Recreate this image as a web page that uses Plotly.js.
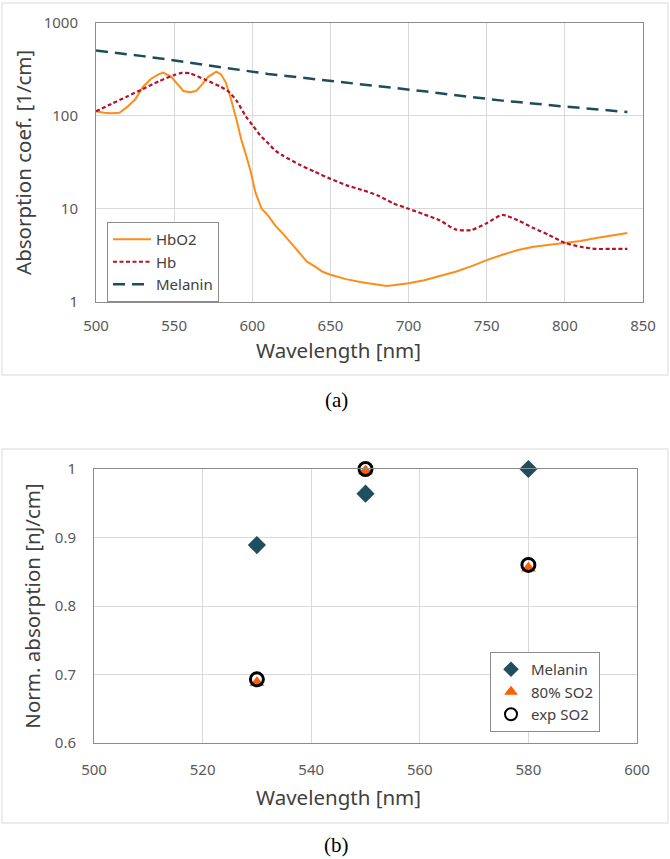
<!DOCTYPE html>
<html>
<head>
<meta charset="utf-8">
<script src="https://cdn.plot.ly/plotly-3.0.1.min.js"></script>
<style>
html,body{margin:0;padding:0;background:#fff;}
#chart{width:670px;height:859px;}
</style>
</head>
<body>
<div id="chart"></div>
<script>
// ---- Panel (a): absorption spectra ----
const hbo2Wl = [500,505,510,515,520,525,530,535,540,543,548,552,556,560,564,568,572,577,580,583,586,590,593,596,599,602,606,610,615,620,625,630,635,640,645,650,660,670,680,686,690,700,710,720,730,740,750,760,770,780,790,800,810,820,830,840];
const hbo2Val = [112,108,107,108,125,150,205,250,280,292,265,220,185,180,185,220,265,300,280,230,160,90,55,38,25,15,10,8.5,6.5,5.3,4.2,3.4,2.7,2.4,2.1,1.95,1.75,1.62,1.52,1.48,1.5,1.58,1.7,1.88,2.1,2.4,2.8,3.2,3.6,3.9,4.1,4.25,4.5,4.85,5.2,5.5];

const hbWl = [500,510,520,530,540,550,555,560,570,580,585,590,596,600,605,610,615,620,630,640,650,660,670,680,690,700,710,720,730,740,750,760,770,780,790,800,810,820,830,840];
const hbVal = [112,135,162,195,235,275,290,288,245,205,182,145,98,80,62,51,42,37,30,25,21,18,16,14,11.5,10,8.7,7.5,6.0,5.9,7.0,8.6,7.5,6.2,5.2,4.3,3.9,3.7,3.7,3.7];

const melWl = [500,510,520,530,540,550,560,570,580,590,600,610,620,630,640,650,660,670,680,690,700,710,720,730,740,750,760,770,780,790,800,810,820,830,840];
const melVal = [505,485,462,440,418,395,372,352,335,315,296,283,271,260,250,240,230,220,210,201,193,184,175,167,159,152,146,141,135,130,126,122,118,114,110];

const yTicksA = [1,10,100,1000];
const yTickTextA = ["1","10","100","1000"];

// ---- Panel (b): normalized absorption ----
const bWl = [530,550,580];
const melaninNorm = [0.889,0.964,1.0];
const so2_80 = [0.688,0.997,0.855];
const so2_exp = [0.693,1.0,0.86];

const W = 670, H = 859;
const px = x => x / W;
const py = y => 1 - y / H;

const FONT = '"Noto Sans", sans-serif';
const tickFont = {family:FONT, size:15, color:'#595959'};
const titleFont = {family:FONT, size:20.5, color:'#404040'};

const traces = [
  {x:hbo2Wl, y:hbo2Val, name:'HbO2', type:'scatter', mode:'lines',
   line:{color:'#FF8C1A', width:2}, xaxis:'x', yaxis:'y', legend:'legend'},
  {x:hbWl, y:hbVal, name:'Hb', type:'scatter', mode:'lines', line:{shape:'spline', smoothing:0.6,
   color:'#B0152A', width:2.2, dash:'4px,2.5px'}, xaxis:'x', yaxis:'y', legend:'legend'},
  {x:melWl, y:melVal, name:'Melanin', type:'scatter', mode:'lines',
   line:{color:'#1E4D5A', width:2.5, dash:'12px,7px'}, xaxis:'x', yaxis:'y', legend:'legend'},
  {x:bWl, y:melaninNorm, name:'Melanin', type:'scatter', mode:'markers', cliponaxis:false,
   marker:{symbol:'diamond', size:14, color:'#1F4E5F'}, xaxis:'x2', yaxis:'y2', legend:'legend2'},
  {x:bWl, y:so2_80, name:'80% SO2', type:'scatter', mode:'markers', cliponaxis:false,
   marker:{symbol:'triangle-up', size:13, color:'#FF5F00'}, xaxis:'x2', yaxis:'y2', legend:'legend2'},
  {x:bWl, y:so2_exp, name:'exp SO2', type:'scatter', mode:'markers', cliponaxis:false,
   marker:{symbol:'circle-open', size:13, color:'#000000', line:{width:3, color:'#000000'}}, xaxis:'x2', yaxis:'y2', legend:'legend2'}
];

const axisCommon = {
  showline:true, mirror:true, linecolor:'#8c8c8c', linewidth:1,
  showgrid:true, gridcolor:'#d9d9d9', gridwidth:1, zeroline:false,
  ticks:'outside', ticklen:9, tickcolor:'rgba(0,0,0,0)', tickfont:tickFont,
  automargin:false, fixedrange:true
};

const layout = {
  width:W, height:H,
  margin:{l:0, r:0, t:0, b:0},
  paper_bgcolor:'#ffffff', plot_bgcolor:'#ffffff',
  showlegend:true,
  xaxis: Object.assign({}, axisCommon, {
    domain:[px(96), px(643)], anchor:'y', range:[500,850], dtick:50, tick0:500, ticklen:10
  }),
  yaxis: Object.assign({}, axisCommon, {
    domain:[py(301.7), py(23)], anchor:'x', type:'log', range:[0,3],
    tickmode:'array', tickvals:yTicksA, ticktext:yTickTextA, ticklen:14,
    title:{text:'Absorption coef. [1/cm]', font:titleFont, standoff:6}
  }),
  xaxis2: Object.assign({}, axisCommon, {
    domain:[px(94), px(637)], anchor:'y2', range:[500,600], dtick:20, tick0:500,
    ticklen:13
  }),
  yaxis2: Object.assign({}, axisCommon, {
    domain:[py(743), py(469)], anchor:'x2', range:[0.6,1], dtick:0.1, tick0:0.6,
    ticklen:14,
    title:{text:'Norm. absorption [nJ/cm]', font:titleFont, standoff:8}
  }),
  legend:{
    x:px(107), y:py(222), xanchor:'left', yanchor:'top',
    bgcolor:'#ffffff', bordercolor:'#8c8c8c', borderwidth:1,
    font:{family:FONT, size:15, color:'#404040'},
    tracegroupgap:0, itemwidth:38
  },
  legend2:{
    x:px(490), y:py(652), xanchor:'left', yanchor:'top',
    bgcolor:'#ffffff', bordercolor:'#8c8c8c', borderwidth:1,
    font:{family:FONT, size:15, color:'#404040'},
    tracegroupgap:0, itemwidth:30, itemsizing:'constant'
  },
  shapes:[
    {type:'rect', xref:'paper', yref:'paper', x0:px(2), x1:px(668), y0:py(375), y1:py(3),
     line:{color:'#d9d9d9', width:1}, layer:'below'},
    {type:'rect', xref:'paper', yref:'paper', x0:px(2), x1:px(668), y0:py(823), y1:py(449),
     line:{color:'#d9d9d9', width:1}, layer:'below'}
  ],
  annotations:[
    {text:'Wavelength [nm]', xref:'paper', yref:'paper', x:px(338), y:py(350), xanchor:'center', yanchor:'middle',
     showarrow:false, font:titleFont},
    {text:'Wavelength [nm]', xref:'paper', yref:'paper', x:px(338), y:py(797), xanchor:'center', yanchor:'middle',
     showarrow:false, font:titleFont},
    {text:'(a)', xref:'paper', yref:'paper', x:px(336), y:py(400), xanchor:'center', yanchor:'middle',
     showarrow:false, font:{family:'"Liberation Serif", "DejaVu Serif", serif', size:21, color:'#000'}},
    {text:'(b)', xref:'paper', yref:'paper', x:px(336), y:py(845), xanchor:'center', yanchor:'middle',
     showarrow:false, font:{family:'"Liberation Serif", "DejaVu Serif", serif', size:21, color:'#000'}}
  ]
};

Plotly.newPlot('chart', traces, layout, {displayModeBar:false, staticPlot:true});
</script>
</body>
</html>
